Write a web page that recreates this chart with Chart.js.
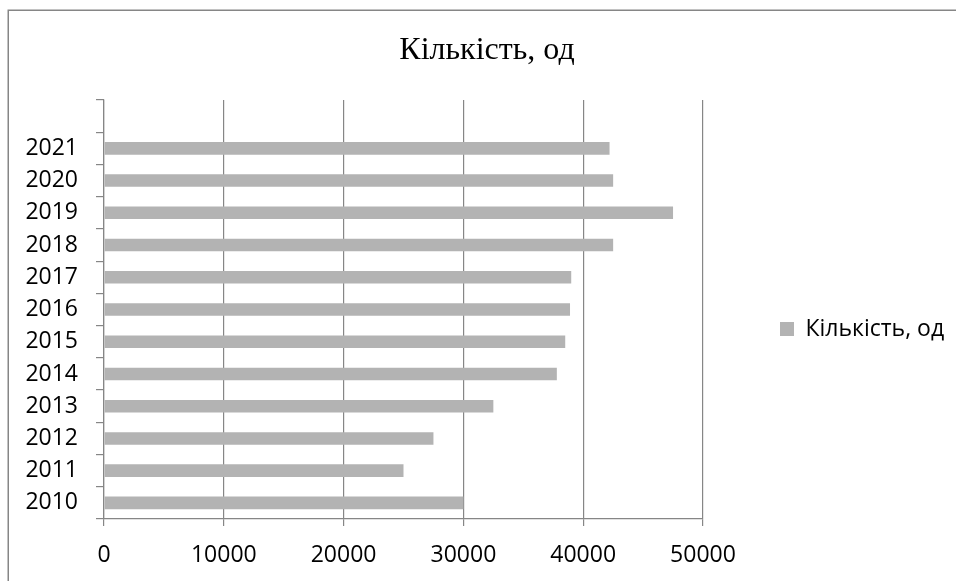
<!DOCTYPE html>
<html lang="uk">
<head>
<meta charset="utf-8">
<title>Кількість, од</title>
<script src="https://cdn.jsdelivr.net/npm/chart.js@4/dist/chart.umd.min.js"></script>
<style>
  html, body { margin: 0; padding: 0; background: #ffffff; }
  #wrap { width: 956px; height: 581px; }
</style>
</head>
<body>
<div id="wrap"><canvas id="chart" width="956" height="581"></canvas></div>
<script>
// Рік та кількість, од
const years = ['2010', '2011', '2012', '2013', '2014', '2015', '2016', '2017', '2018', '2019', '2020', '2021'];
const counts = [30000, 25000, 27500, 32500, 37800, 38500, 38900, 39000, 42500, 47500, 42500, 42200];
const xTicks = [0, 10000, 20000, 30000, 40000, 50000];
const seriesName = 'Кількість, од';

// one empty slot above the last year
const categories = years.concat(['']);
const values = counts.concat([null]);

const axisGray = '#868686';
const barGray = '#b3b3b3';
const sansFont = "'Open Sans', 'Noto Sans', sans-serif";

// outer frame of the chart object
const framePlugin = {
  id: 'frame',
  beforeDraw(chart) {
    const ctx = chart.ctx;
    ctx.save();
    ctx.fillStyle = '#ffffff';
    ctx.fillRect(0, 0, chart.width, chart.height);
    ctx.strokeStyle = axisGray;
    ctx.lineWidth = 1.5;
    ctx.strokeRect(8.25, 10.25, chart.width + 40, chart.height + 40);
    ctx.restore();
  }
};

new Chart(document.getElementById('chart'), {
  type: 'bar',
  data: {
    labels: categories,
    datasets: [{
      label: seriesName,
      data: values,
      backgroundColor: barGray,
      borderWidth: 0,
      barPercentage: 0.39,
      categoryPercentage: 1.0
    }]
  },
  options: {
    indexAxis: 'y',
    responsive: false,
    animation: false,
    devicePixelRatio: 1,
    layout: { padding: { left: 21, right: 3, top: 0, bottom: 0 } },
    scales: {
      x: {
        type: 'linear',
        min: 0,
        max: 50000,
        afterBuildTicks(scale) { scale.ticks = xTicks.map(v => ({ value: v })); },
        afterFit(scale) { scale.height = 62; },
        ticks: {
          color: '#000000',
          font: { family: sansFont, size: 23 },
          padding: 16,
          maxRotation: 0,
          callback: v => String(v)
        },
        grid: { color: axisGray, lineWidth: 1.2, tickLength: 7, drawTicks: true },
        border: { display: true, color: axisGray, width: 1.2 }
      },
      y: {
        type: 'category',
        reverse: true,
        afterFit(scale) { scale.width = 83; },
        ticks: {
          color: '#000000',
          font: { family: sansFont, size: 23 },
          padding: 18,
          autoSkip: false
        },
        grid: { color: axisGray, lineWidth: 1.2, drawOnChartArea: false, drawTicks: true, tickLength: 8, offset: true },
        border: { display: true, color: axisGray, width: 1.2 }
      }
    },
    plugins: {
      title: {
        display: true,
        text: seriesName,
        color: '#000000',
        font: { family: "'Liberation Serif', 'Times New Roman', serif", size: 32, weight: 'normal', lineHeight: 1.2 },
        padding: { top: 31, bottom: 30.6 }
      },
      legend: {
        display: true,
        position: 'right',
        align: 'center',
        fullSize: false,
        maxWidth: 250,
        title: { display: true, text: '', font: { size: 12, lineHeight: 1.2 }, padding: { top: 0, bottom: 24.6 } },
        labels: {
          color: '#000000',
          font: { family: sansFont, size: 23 },
          boxWidth: 14,
          boxHeight: 14,
          padding: 77
        }
      },
      tooltip: { enabled: false }
    }
  },
  plugins: [framePlugin]
});
</script>
</body>
</html>
